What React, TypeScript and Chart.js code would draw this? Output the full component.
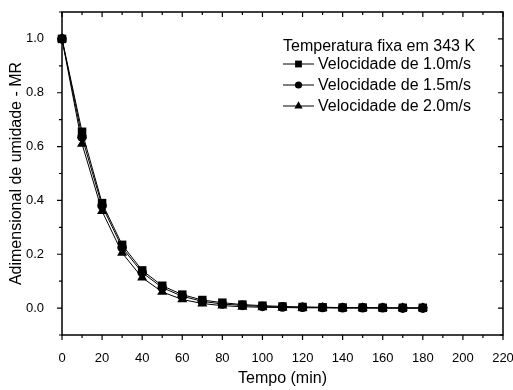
import React, { useEffect, useRef } from "react";
import { Chart, registerables } from "chart.js";

Chart.register(...registerables);

const time = [0, 10, 20, 30, 40, 50, 60, 70, 80, 90, 100, 110, 120, 130, 140, 150, 160, 170, 180];
const vel10 = [1.0, 0.655, 0.39, 0.235, 0.14, 0.083, 0.05, 0.03, 0.02, 0.013, 0.009, 0.006, 0.004, 0.003, 0.002, 0.002, 0.001, 0.001, 0.001];
const vel15 = [1.0, 0.635, 0.38, 0.225, 0.132, 0.076, 0.044, 0.025, 0.015, 0.01, 0.006, 0.004, 0.003, 0.002, 0.001, 0.001, 0.001, 0.0, 0.0];
const vel20 = [1.0, 0.61, 0.36, 0.205, 0.113, 0.06, 0.032, 0.017, 0.009, 0.005, 0.003, 0.002, 0.001, 0.001, 0.0, 0.0, 0.0, 0.0, 0.0];

const seriesLabels = ["Velocidade de 1.0m/s", "Velocidade de 1.5m/s", "Velocidade de 2.0m/s"];
const legendTitle = "Temperatura fixa em 343 K";
const xTitle = "Tempo (min)";
const yTitle = "Adimensional de umidade - MR";
const xTickLabels = [0, 20, 40, 60, 80, 100, 120, 140, 160, 180, 200, 220];
const yTickLabels = [0.0, 0.2, 0.4, 0.6, 0.8, 1.0];

const FONT = "'Liberation Sans', Arial, sans-serif";

function drawMarker(ctx: CanvasRenderingContext2D, style: string, x: number, y: number, r: number) {
  ctx.beginPath();
  if (style === "rect") {
    const s = r * Math.SQRT1_2;
    ctx.rect(x - s, y - s, 2 * s, 2 * s);
  } else if (style === "circle") {
    ctx.arc(x, y, r, 0, Math.PI * 2);
  } else {
    const half = (r * Math.sqrt(3)) / 2;
    ctx.moveTo(x, y - r);
    ctx.lineTo(x + half, y + r / 2);
    ctx.lineTo(x - half, y + r / 2);
    ctx.closePath();
  }
  ctx.fill();
}

const framePlugin = {
  id: "frameTicks",
  beforeDatasetsDraw(chart: any) {
    const { ctx, chartArea, scales } = chart;
    const { left, right, top, bottom } = chartArea;
    const x = scales.x;
    const y = scales.y;
    ctx.save();
    ctx.strokeStyle = "#000";
    ctx.lineWidth = 1.5;
    ctx.strokeRect(left, top, right - left, bottom - top);
    ctx.lineWidth = 1.2;
    ctx.beginPath();
    for (let v = x.min; v <= x.max + 1e-9; v += 10) {
      const px = x.getPixelForValue(v);
      const major = Math.round(v) % 20 === 0;
      const len = major ? 5 : 3;
      ctx.moveTo(px, bottom);
      ctx.lineTo(px, bottom + len);
      ctx.moveTo(px, top);
      ctx.lineTo(px, top + len);
    }
    for (let i = 0; i <= 12; i++) {
      const v = -0.1 + i * 0.1;
      const py = y.getPixelForValue(v);
      const major = i % 2 === 1;
      const len = major ? 5 : 3;
      ctx.moveTo(left, py);
      ctx.lineTo(left - len, py);
      ctx.moveTo(right, py);
      ctx.lineTo(right - len, py);
    }
    ctx.stroke();
    ctx.restore();
  },
  afterDraw(chart: any) {
    const { ctx } = chart;
    ctx.save();
    ctx.fillStyle = "#000";
    ctx.strokeStyle = "#000";
    ctx.font = `16px ${FONT}`;
    ctx.textBaseline = "middle";
    ctx.textAlign = "left";
    ctx.fillText(legendTitle, 283, 47);
    chart.data.datasets.forEach((ds: any, i: number) => {
      const yy = 64 + i * 21;
      ctx.lineWidth = 1;
      ctx.beginPath();
      ctx.moveTo(283, yy);
      ctx.lineTo(314, yy);
      ctx.stroke();
      drawMarker(ctx, ds.pointStyle, 298.5, yy, ds.pointStyle === "circle" ? 3.6 : 4.8);
      ctx.fillText(ds.label, 318, yy + 1);
    });
    ctx.restore();
  },
};

export default function App() {
  const ref = useRef<HTMLCanvasElement | null>(null);
  useEffect(() => {
    if (!ref.current) return;
    const mk = (label: string, data: number[], style: string, r: number) => ({
      label,
      data: data.map((v, i) => ({ x: time[i], y: v })),
      borderColor: "#000",
      backgroundColor: "#000",
      borderWidth: 1,
      pointStyle: style,
      pointRadius: r,
      pointBorderWidth: 0,
      pointBackgroundColor: "#000",
      tension: 0,
      clip: false,
    });
    const chart = new Chart(ref.current, {
      type: "line",
      data: {
        datasets: [
          mk(seriesLabels[0], vel10, "rect", 6),
          mk(seriesLabels[1], vel15, "circle", 4.8),
          mk(seriesLabels[2], vel20, "triangle", 5.8),
        ],
      },
      options: {
        animation: false,
        responsive: false,
        maintainAspectRatio: false,
        layout: { padding: { top: 12, right: 10, left: 0, bottom: 0 } },
        plugins: { legend: { display: false }, tooltip: { enabled: false } },
        scales: {
          x: {
            type: "linear",
            min: 0,
            max: 220,
            grid: { display: false },
            border: { display: false },
            afterBuildTicks: (s: any) => {
              s.ticks = xTickLabels.map((v) => ({ value: v }));
            },
            afterFit: (s: any) => {
              s.height = 55;
              s.paddingLeft = 0;
              s.paddingRight = 0;
            },
            ticks: {
              color: "#000",
              padding: 8,
              maxRotation: 0,
              autoSkip: false,
              font: { family: FONT, size: 13 },
              callback: (v: any) => String(v),
            },
            title: {
              display: true,
              text: xTitle,
              color: "#000",
              font: { family: FONT, size: 16 },
              padding: { top: 0, bottom: 2 },
            },
          },
          y: {
            type: "linear",
            min: -0.1,
            max: 1.1,
            grid: { display: false },
            border: { display: false },
            afterBuildTicks: (s: any) => {
              s.ticks = yTickLabels.map((v) => ({ value: v }));
            },
            afterFit: (s: any) => {
              s.width = 62;
              s.paddingTop = 0;
              s.paddingBottom = 0;
            },
            ticks: {
              color: "#000",
              padding: 10,
              autoSkip: false,
              font: { family: FONT, size: 13 },
              callback: (v: any) => Number(v).toFixed(1),
            },
            title: {
              display: true,
              text: yTitle,
              color: "#000",
              font: { family: FONT, size: 16 },
              padding: { top: 7, bottom: 0 },
            },
          },
        },
      },
      plugins: [framePlugin],
    } as any);
    return () => chart.destroy();
  }, []);
  return (
    <div style={{ position: "fixed", left: 0, top: 0, width: 513, height: 390, background: "#fff" }}>
      <canvas ref={ref} width={513} height={390} style={{ width: 513, height: 390 }} />
    </div>
  );
}
